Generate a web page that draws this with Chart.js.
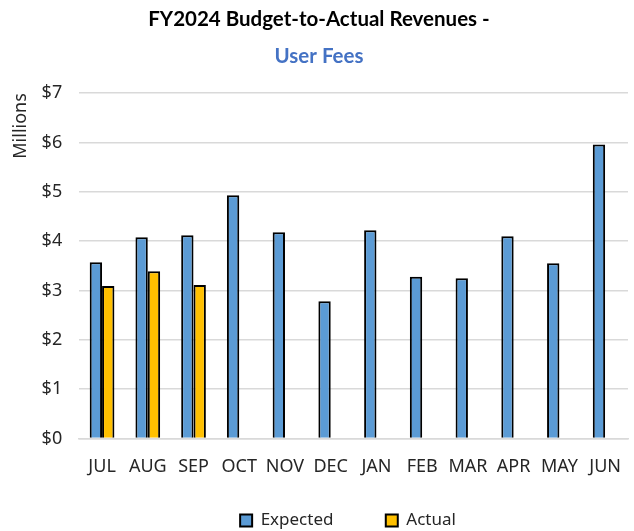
<!DOCTYPE html>
<html>
<head>
<meta charset="utf-8">
<script src="https://cdn.jsdelivr.net/npm/chart.js@4.4.0/dist/chart.umd.min.js"></script>
<style>
  html, body { margin: 0; padding: 0; background: #fff; }
  #wrap { width: 634px; height: 531px; }
</style>
</head>
<body>
<div id="wrap"><canvas id="myChart" width="634" height="531"></canvas></div>
<script>
const months = ['JUL', 'AUG', 'SEP', 'OCT', 'NOV', 'DEC', 'JAN', 'FEB', 'MAR', 'APR', 'MAY', 'JUN'];
const expected = [3.57, 4.08, 4.12, 4.93, 4.18, 2.78, 4.22, 3.28, 3.25, 4.10, 3.55, 5.96];
const actual = [3.09, 3.39, 3.11, null, null, null, null, null, null, null, null, null];
const yTickLabels = ['$0', '$1', '$2', '$3', '$4', '$5', '$6', '$7'];

const fontFamily = "'Noto Sans', 'Open Sans', sans-serif";
const titleFont = "Lato, 'Noto Sans', sans-serif";

// nudge the legend right so it sits under the middle of the plot like the original
const legendShift = {
    id: 'legendShift',
    afterLayout(chart) {
        chart.legend.left += 58;
    }
};

const ctx = document.getElementById('myChart');
new Chart(ctx, {
    type: 'bar',
    data: {
        labels: months,
        datasets: [{
            label: 'Expected',
            data: expected,
            backgroundColor: '#5B9BD5',
            borderColor: '#000000',
            borderWidth: 2,
            categoryPercentage: 0.54,
            barPercentage: 1.0
        }, {
            label: 'Actual',
            data: actual,
            backgroundColor: '#FFC000',
            borderColor: '#000000',
            borderWidth: 2,
            categoryPercentage: 0.54,
            barPercentage: 1.0
        }]
    },
    options: {
        responsive: false,
        animation: false,
        layout: { padding: { left: 10, right: 6, top: 4, bottom: -8 } },
        scales: {
            x: {
                grid: { display: false },
                border: { color: '#d9d9d9', width: 1.5 },
                ticks: {
                    color: '#262626',
                    font: { family: fontFamily, size: 18 },
                    padding: 10,
                    maxRotation: 0,
                    minRotation: 0,
                    autoSkip: false
                }
            },
            y: {
                min: 0,
                max: yTickLabels.length - 1,
                grid: { color: '#d9d9d9', lineWidth: 1.5, drawTicks: false },
                border: { display: false },
                ticks: {
                    stepSize: 1,
                    color: '#262626',
                    font: { family: fontFamily, size: 18 },
                    padding: 17,
                    callback: (v, i) => yTickLabels[i]
                },
                title: {
                    display: true,
                    text: 'Millions',
                    align: 'end',
                    color: '#262626',
                    font: { family: fontFamily, size: 18 },
                    padding: { top: 0, bottom: 5 }
                },
                afterFit: (scale) => { scale.width = scale.width - 12; }
            }
        },
        plugins: {
            title: {
                display: true,
                text: 'FY2024 Budget-to-Actual Revenues -',
                color: '#000000',
                font: { family: titleFont, size: 20.5, weight: 'bold' },
                padding: { top: 3, bottom: 12 }
            },
            subtitle: {
                display: true,
                text: 'User Fees',
                color: '#4472C4',
                font: { family: titleFont, size: 20.5, weight: 'bold' },
                padding: { top: 0, bottom: 25 }
            },
            legend: {
                position: 'bottom',
                labels: {
                    color: '#262626',
                    font: { family: fontFamily, size: 17 },
                    boxWidth: 12,
                    boxHeight: 12,
                    padding: 24,
                    // widen the gap after the first entry like the original legend
                    generateLabels: (chart) => {
                        const items = Chart.defaults.plugins.legend.labels.generateLabels(chart);
                        items[0].text = items[0].text + '\u2003\u2002\u2009';
                        return items;
                    }
                }
            },
            tooltip: { enabled: false }
        }
    },
    plugins: [legendShift]
});
</script>
</body>
</html>
